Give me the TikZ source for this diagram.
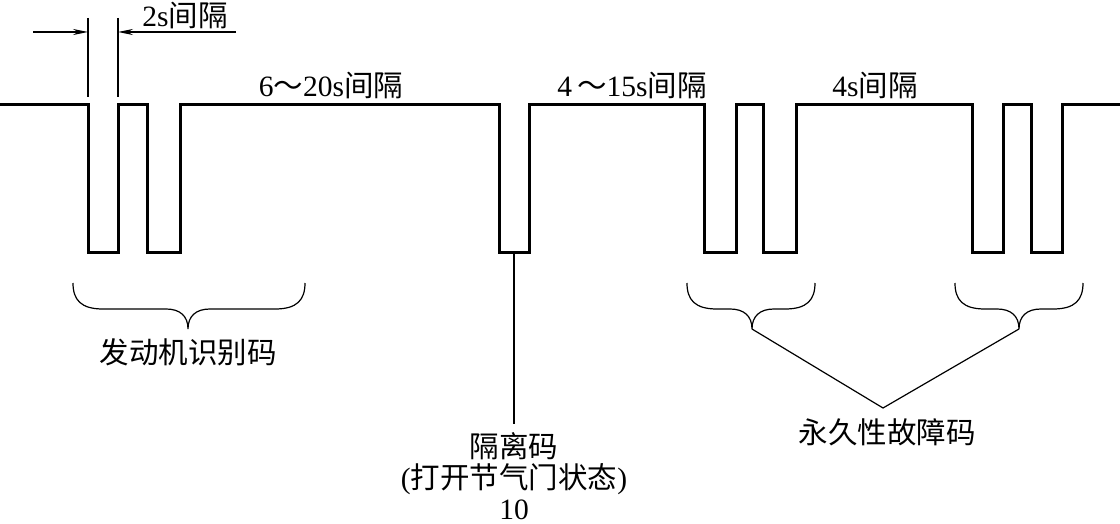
\documentclass[tikz,border=0pt]{standalone}
\usepackage{fontspec}
\setmainfont{Liberation Serif}
\newfontfamily\cjk{Noto Sans CJK SC}
\usetikzlibrary{arrows.meta}

\begin{document}
\begin{tikzpicture}[
    x=1pt, y=-1pt,
    wave/.style={line width=3pt, line join=miter},
    thinline/.style={line width=1.2pt},
    dimarr/.style={-{Stealth[length=15pt, width=6pt]}, line width=1.2pt},
    lbl/.style={inner sep=0pt, align=center, font=\fontsize{29.5}{31}\selectfont},
]
\useasboundingbox (0,0) rectangle (1120,524);

% signal
\draw[wave] (0,105) -- (88,105) -- (88,252) -- (118,252) -- (118,105)
    -- (147,105) -- (147,252) -- (180,252) -- (180,105)
    -- (499,105) -- (499,252) -- (529,252) -- (529,105)
    -- (704,105) -- (704,252) -- (736,252) -- (736,105)
    -- (763,105) -- (763,252) -- (796,252) -- (796,105)
    -- (972,105) -- (972,252) -- (1003,252) -- (1003,105)
    -- (1031,105) -- (1031,252) -- (1062,252) -- (1062,105) -- (1120,105);

% 2 s dimension
\coordinate (ext1) at (88,18);
\coordinate (ext2) at (118,18);
\coordinate (dimL) at (33,32);
\coordinate (dimR) at (236,32);
\draw[thinline] (ext1) -- (88,97);
\draw[thinline] (ext2) -- (118,97);
\draw[dimarr] (dimL) -- (ext1 |- dimL);
\draw[dimarr] (dimR) -- (ext2 |- dimR);
\node[lbl] (gap2) at (185,15) {2s{\cjk 间隔}};

% intervals
\node[lbl] (gap620) at (331,85) {6{\cjk ～}20s{\cjk 间隔}};
\node[lbl] (gap415) at (632,85) {4\,{\cjk ～}15s{\cjk 间隔}};
\node[lbl] (gap4) at (875,85) {4s{\cjk 间隔}};

% braces
\foreach \a/\m/\b [count=\i] in {73/188/305, 687/752/815, 955/1019/1083} {
  \draw[thinline] (\a,283) .. controls (\a,300) and (\a+8,309) .. (\a+30,309)
      -- (\m-22,309) .. controls (\m-8,309) and (\m,316) .. (\m,329)
      .. controls (\m,316) and (\m+8,309) .. (\m+22,309)
      -- (\b-30,309) .. controls (\b-8,309) and (\b,300) .. (\b,283);
  \coordinate (tip\i) at (\m,329);
}

\node[lbl] (engine) at (188,352) {\cjk 发动机识别码};
\node[lbl] (fault) at (887,432) {\cjk 永久性故障码};
\coordinate (join) at (883,408);
\draw[thinline] (tip2) -- (join) -- (tip3);

% isolation code
\coordinate (iso) at (514,252);
\node[lbl, anchor=north] (isolab) at (514,432)
    {{\cjk 隔离码}\\({\cjk 打开节气门状态})\\10};
\draw[thinline] (iso) -- (514,424);

\end{tikzpicture}
\end{document}
